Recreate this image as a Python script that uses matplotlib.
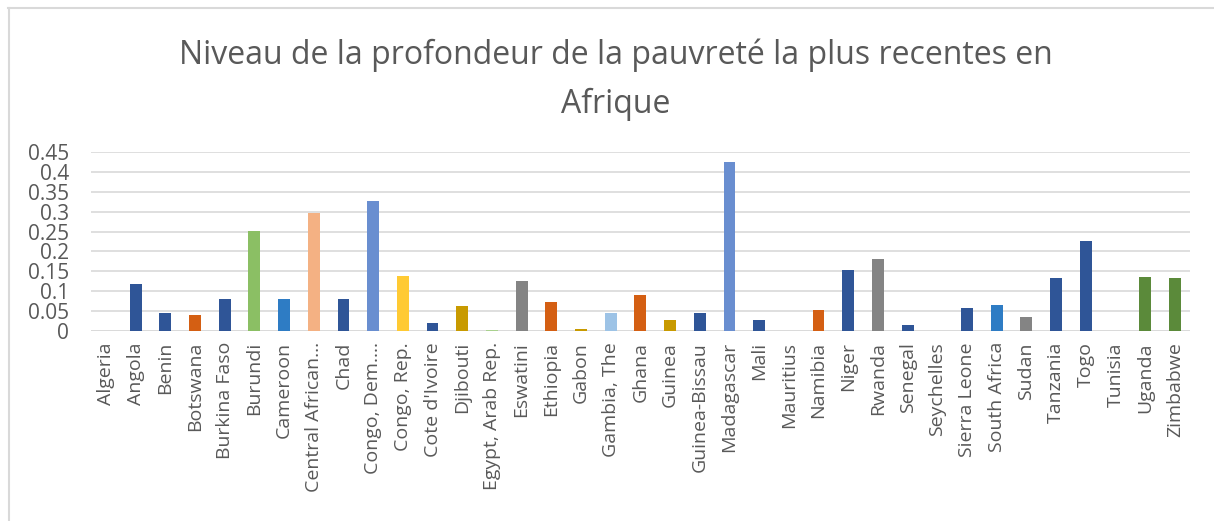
import numpy as np
import matplotlib.pyplot as plt
from matplotlib.lines import Line2D

countries = ['Algeria', 'Angola', 'Benin', 'Botswana', 'Burkina Faso', 'Burundi',
             'Cameroon', 'Central African…', 'Chad', 'Congo, Dem.…', 'Congo, Rep.',
             "Cote d'Ivoire", 'Djibouti', 'Egypt, Arab Rep.', 'Eswatini', 'Ethiopia',
             'Gabon', 'Gambia, The', 'Ghana', 'Guinea', 'Guinea-Bissau', 'Madagascar',
             'Mali', 'Mauritius', 'Namibia', 'Niger', 'Rwanda', 'Senegal', 'Seychelles',
             'Sierra Leone', 'South Africa', 'Sudan', 'Tanzania', 'Togo', 'Tunisia',
             'Uganda', 'Zimbabwe']
depth = [0.0, 0.117, 0.045, 0.039, 0.081, 0.251,
         0.081, 0.296, 0.081, 0.326, 0.137,
         0.021, 0.062, 0.002, 0.126, 0.074,
         0.004, 0.044, 0.091, 0.028, 0.045, 0.425,
         0.028, 0.0, 0.052, 0.154, 0.182, 0.015, 0.0,
         0.059, 0.066, 0.034, 0.134, 0.227, 0.0,
         0.135, 0.133]

# couleurs par point (style Excel)
DB, OR, GR, MB, LB = '#2F5597', '#D45F13', '#848484', '#698ED0', '#2E7CC4'
GO = '#C89A00'
colors = ['#8FAADC', DB, DB, OR, DB, '#8BBF64',
          LB, '#F4B183', DB, MB, '#FFCA33',
          DB, GO, '#A9D18E', GR, OR,
          GO, '#9DC3E6', OR, GO, DB, MB,
          DB, '#A9D18E', OR, DB, GR, DB, '#9DC3E6',
          DB, LB, GR, DB, DB, '#8FAADC',
          '#5B8A3A', '#5B8A3A']

txt = '#595959'
plt.rcParams['font.family'] = ['Open Sans', 'DejaVu Sans']

fig = plt.figure(figsize=(12.14, 5.21), dpi=100)
ax = fig.add_axes([0.075, 0.3647, 0.905, 0.3436])

x = np.arange(len(countries))
ax.bar(x, depth, width=0.40, color=colors, zorder=3)

ax.set_xlim(-0.5, len(countries) - 0.5)
ax.set_ylim(0, 0.45)
ax.set_yticks(np.arange(0, 0.451, 0.05))
ax.set_yticklabels(['0', '0.05', '0.1', '0.15', '0.2', '0.25', '0.3', '0.35', '0.4', '0.45'])
ax.set_xticks(x)
ax.set_xticklabels(countries, rotation=90)
ax.tick_params(axis='y', length=0, labelsize=15, colors=txt, pad=16)
ax.tick_params(axis='x', length=0, labelsize=14, colors=txt, pad=8)
ax.yaxis.grid(True, color='#D9D9D9', linewidth=1.2, zorder=0)
for s in ax.spines.values():
    s.set_visible(False)
ax.axhline(0, color='#D9D9D9', linewidth=1.2, zorder=2)

fig.text(0.507, 0.847, 'Niveau de la profondeur de la pauvreté la plus recentes en\nAfrique',
         ha='center', va='center', fontsize=23, color=txt, linespacing=1.65)

# bordure
fig.add_artist(Line2D([8 / 1214, 1], [1 - 7.5 / 521] * 2, color='#D9D9D9', lw=1.5,
                      transform=fig.transFigure))
fig.add_artist(Line2D([8.5 / 1214] * 2, [0, 1 - 7.5 / 521], color='#D9D9D9', lw=1.5,
                      transform=fig.transFigure))

fig.savefig('out.png', dpi=100)
